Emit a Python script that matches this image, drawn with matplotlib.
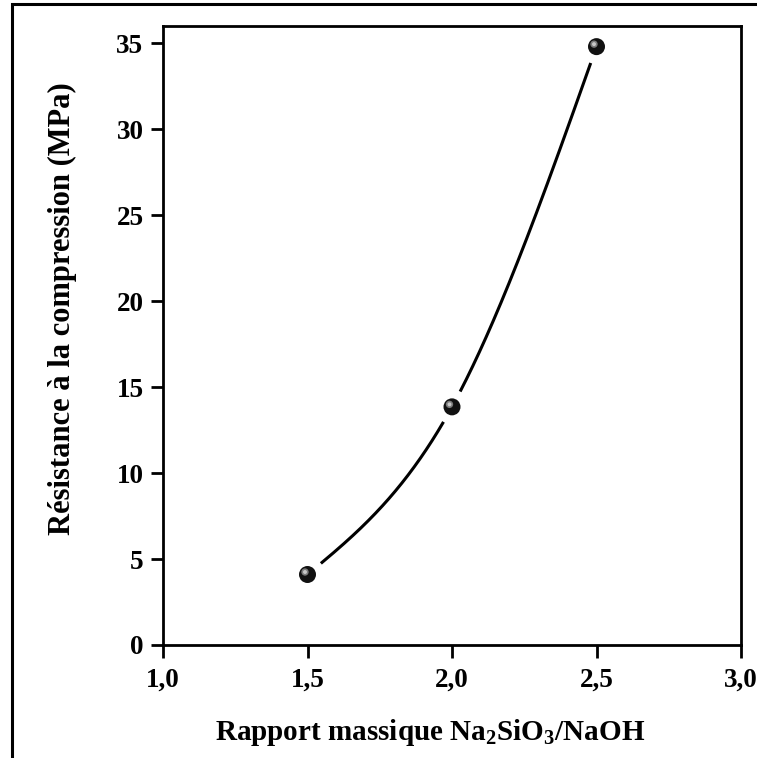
import numpy as np
import matplotlib
matplotlib.use("Agg")
import matplotlib.pyplot as plt
from matplotlib.patches import Rectangle

# Data
ratio = [1.5, 2.0, 2.5]
strength = [4.1, 13.85, 34.8]
xticks = [1.0, 1.5, 2.0, 2.5, 3.0]
xticklabels = ["1,0", "1,5", "2,0", "2,5", "3,0"]
yticks = [0, 5, 10, 15, 20, 25, 30, 35]

plt.rcParams['font.family'] = ['Liberation Serif', 'DejaVu Serif']
plt.rcParams['font.weight'] = 'bold'
plt.rcParams['mathtext.fontset'] = 'custom'
plt.rcParams['mathtext.rm'] = 'Liberation Serif:bold'
plt.rcParams['mathtext.bf'] = 'Liberation Serif:bold'

W, H = 757, 758
fig = plt.figure(figsize=(W / 100, H / 100), dpi=100)
ax = fig.add_axes([163 / W, 1 - 645 / H, (741 - 163) / W, (645 - 26) / H])

# outer frame
fig.patches.append(Rectangle((11.5 / W, -0.1), 1.2, 1 - 4.5 / H + 0.1, transform=fig.transFigure,
                             fill=False, edgecolor='black', linewidth=2.2, zorder=0))

ax.set_xlim(1.0, 3.0)
ax.set_ylim(0, 36)

# natural cubic spline through points
x = np.array(ratio); y = np.array(strength)
n = len(x)
h = np.diff(x)
A = np.zeros((n, n)); b = np.zeros(n)
A[0, 0] = 1; A[-1, -1] = 1
for i in range(1, n - 1):
    A[i, i - 1] = h[i - 1]; A[i, i] = 2 * (h[i - 1] + h[i]); A[i, i + 1] = h[i]
    b[i] = 3 * ((y[i + 1] - y[i]) / h[i] - (y[i] - y[i - 1]) / h[i - 1])
c = np.linalg.solve(A, b)
xs = np.linspace(x[0], x[-1], 800)
ys = np.empty_like(xs)
for k, xv in enumerate(xs):
    i = min(np.searchsorted(x, xv, side='right') - 1, n - 2)
    dx = xv - x[i]
    bi = (y[i + 1] - y[i]) / h[i] - h[i] * (2 * c[i] + c[i + 1]) / 3
    di = (c[i + 1] - c[i]) / (3 * h[i])
    ys[k] = y[i] + bi * dx + c[i] * dx ** 2 + di * dx ** 3

# gaps around markers
fig.canvas.draw()
pts = ax.transData.transform(np.column_stack([xs, ys]))
mk = ax.transData.transform(np.column_stack([x, y]))
mask = np.ones(len(xs), bool)
for m in mk:
    mask &= np.hypot(pts[:, 0] - m[0], pts[:, 1] - m[1]) > 17
ys_m = np.where(mask, ys, np.nan)
ax.plot(xs, ys_m, color='black', linewidth=2.2, solid_capstyle='butt', zorder=2)

# sphere-like markers
ax.scatter(x, y, s=150, color='#111111', zorder=3, edgecolors='none')
off = ax.transData.inverted().transform(mk + np.array([-2.5, 2.5]))
ax.scatter(off[:, 0], off[:, 1], s=28, color='#7a7a7a', zorder=4, edgecolors='none')
ax.scatter(off[:, 0], off[:, 1], s=8, color='#c8c8c8', zorder=5, edgecolors='none')

ax.set_xticks(xticks)
ax.set_xticklabels(xticklabels)
ax.set_yticks(yticks)
for s in ax.spines.values():
    s.set_linewidth(2.0)
ax.tick_params(direction='out', length=9, width=2.0, labelsize=19.5, pad=5)
ax.tick_params(axis='x', pad=7)

fig.text(430 / W, 1 - 733 / H, r"Rapport massique Na$_{2}$SiO$_{3}$/NaOH", ha='center', va='center',
         fontsize=21, fontweight='bold')
fig.text(62 / W, 1 - 309 / H, "Résistance à la compression (MPa)", ha='center', va='center',
         rotation=90, fontsize=22, fontweight='bold')

fig.savefig("out.png", dpi=100)
